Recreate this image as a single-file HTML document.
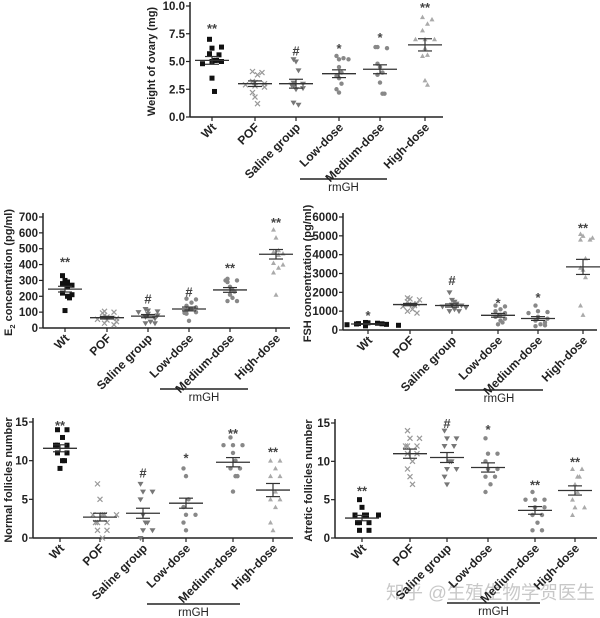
<!DOCTYPE html>
<html><head><meta charset="utf-8"><style>
html,body{margin:0;padding:0;background:#fff;width:600px;height:618px;overflow:hidden}
svg{display:block}
text{font-family:"Liberation Sans",Arial,sans-serif;font-weight:bold;fill:#222}
</style></head><body>
<svg id="s" width="600" height="618" xmlns="http://www.w3.org/2000/svg">
<text x="386" y="599" style="font-family:'Liberation Sans','Noto Sans CJK SC',sans-serif;font-weight:normal;font-size:18.5px;fill:#c8c8c8">知乎 @生殖生物学贺医生</text>
</svg>
<script>
const S=document.getElementById('s');const NS='http://www.w3.org/2000/svg';
function el(t,a,txt){const e=document.createElementNS(NS,t);for(const k in a)e.setAttribute(k,a[k]);if(txt!==undefined)e.textContent=txt;S.appendChild(e);return e;}
const names=['Wt','POF','Saline group','Low-dose','Medium-dose','High-dose'];
const cols=['#111','#999','#777','#888','#888','#aaa'];
function marker(k,x,y){const c=cols[k];
 if(k==0)el('rect',{x:x-2.5,y:y-2.5,width:5,height:5,fill:c});
 else if(k==1){el('path',{d:`M${x-2.5} ${y-2.5}L${x+2.5} ${y+2.5}M${x+2.5} ${y-2.5}L${x-2.5} ${y+2.5}`,stroke:c,'stroke-width':1.2});}
 else if(k==2)el('path',{d:`M${x-3} ${y-2}L${x+3} ${y-2}L${x} ${y+3}Z`,fill:c});
 else if(k==5)el('path',{d:`M${x-2.5} ${y+2}L${x+2.5} ${y+2}L${x} ${y-2.5}Z`,fill:c});
 else el('circle',{cx:x,cy:y,r:2.2,fill:c});}
function panel(p){
 const sy=v=>p.y0+(p.y1-p.y0)*v/p.max;
 el('line',{x1:p.ax,y1:p.y1-4,x2:p.ax,y2:p.y0,stroke:'#222','stroke-width':1.5});
 el('line',{x1:p.ax,y1:p.y0,x2:p.xe,y2:p.y0,stroke:'#222','stroke-width':1.5});
 p.ticks.forEach(t=>{const y=sy(t);el('line',{x1:p.ax-4,y1:y,x2:p.ax,y2:y,stroke:'#222','stroke-width':1.2});
  el('text',{x:p.ax-5,y:y+4,'text-anchor':'end','font-size':11.5},p.tf?p.tf(t):t);});
 const ym=(p.y0+p.y1)/2;
 const tt=el('text',{x:0,y:0,'text-anchor':'middle','font-size':11,transform:`translate(${p.tx},${ym}) rotate(-90)`});
 if(p.e2){tt.textContent='E';const ts=document.createElementNS(NS,'tspan');ts.setAttribute('font-size',7.5);ts.setAttribute('dy',3);ts.textContent='2';tt.appendChild(ts);const t2=document.createElementNS(NS,'tspan');t2.setAttribute('dy',-3);t2.textContent=' concentration (pg/ml)';tt.appendChild(t2);} else tt.textContent=p.title;
 p.cx.forEach((cx,k)=>{
  el('line',{x1:cx,y1:p.y0,x2:cx,y2:p.y0+4,stroke:'#222','stroke-width':1.2});
  el('text',{x:0,y:0,'text-anchor':'end','font-size':12,transform:`translate(${cx+5},${p.y0+11}) rotate(-45)`},names[k]);
  const d=p.d[k];const cnt={};
  d.v.forEach((v,i)=>{const key=Math.round(sy(v)/3);cnt[key]=(cnt[key]||0)+1;const n=cnt[key]-1;const off=(n%2?1:-1)*Math.ceil(n/2)*7+ (i%3-1)*2.5;marker(k,cx+off,sy(v));});
  const m=sy(d.m),se=(p.y0-p.y1)*d.s/p.max;
  el('line',{x1:cx-17,y1:m,x2:cx+17,y2:m,stroke:'#333','stroke-width':1.3});
  el('line',{x1:cx,y1:m-se,x2:cx,y2:m+se,stroke:'#333','stroke-width':1.2});
  el('line',{x1:cx-7,y1:m-se,x2:cx+7,y2:m-se,stroke:'#333','stroke-width':1.2});
  el('line',{x1:cx-7,y1:m+se,x2:cx+7,y2:m+se,stroke:'#333','stroke-width':1.2});
  if(d.star)el('text',{x:cx,y:sy(d.sy)+5,'text-anchor':'middle','font-size':13,style:'fill:#444'},d.star);
 });
 el('line',{x1:p.rg[0],y1:p.rg[2],x2:p.rg[1],y2:p.rg[2],stroke:'#222','stroke-width':1.5});
 el('text',{x:(p.rg[0]+p.rg[1])/2,y:p.rg[2]+12,'text-anchor':'middle','font-size':11.5,style:'font-weight:normal'},'rmGH');
}
panel({ax:190,xe:443,y0:117,y1:6,max:10,ticks:[0,2.5,5,7.5,10],tf:t=>t.toFixed(1),tx:155,title:'Weight of ovary (mg)',
 cx:[212,255,296,339,380,425],rg:[300,387,179],d:[
 {v:[7,6.2,6.3,5.7,5.6,5.1,5.1,5,5,4.8,3.5,2.3],m:5.1,s:.35,star:'**',sy:8},
 {v:[4.1,4,3.8,3.2,3.1,3,2.9,2.8,2.7,2.2,1.8,1.2],m:3,s:.25},
 {v:[5.2,5,4.2,3.1,3,2.9,2.8,2.6,1.1,1.3,2.5],m:3,s:.4,star:'#',sy:6},
 {v:[5.5,5.2,5.2,5.3,4.5,4,3.7,3.5,3,2.5,2.2],m:3.9,s:.35,star:'*',sy:6.2},
 {v:[6.3,6.2,6.3,4.8,4.5,4,3.8,3.1,2.1,2.1],m:4.3,s:.4,star:'*',sy:7.2},
 {v:[9,8.8,8.4,7.8,7,7,7,6.2,5.6,5.5,3.3,2.9],m:6.5,s:.55,star:'**',sy:9.9}]});
panel({ax:43,xe:290,y0:328,y1:217,max:700,ticks:[0,100,200,300,400,500,600,700],tx:12,e2:1,
 cx:[65,107,148,189,230,276],rg:[160,248,389],d:[
 {v:[330,300,290,280,270,260,220,210,200,190,110],m:245,s:18,star:'**',sy:420},
 {v:[105,100,95,80,70,60,55,50,40,30,20],m:65,s:8},
 {v:[120,110,105,100,90,80,70,60,40,30,30],m:75,s:10,star:'#',sy:185},
 {v:[185,180,160,140,130,120,110,100,95,90,45],m:120,s:12,star:'#',sy:230},
 {v:[310,300,300,290,260,240,230,210,190,170,170],m:240,s:15,star:'**',sy:380},
 {v:[620,570,490,480,470,460,410,400,380,350,210],m:465,s:30,star:'**',sy:670}]});
panel({ax:343,xe:597,y0:330,y1:217,max:6000,ticks:[0,1000,2000,3000,4000,5000,6000],tx:311,title:'FSH concentration (pg/ml)',
 cx:[368,410,452,498,538,583],rg:[455,543,390],d:[
 {v:[400,380,360,340,330,320,300,280,250,220],m:320,s:20,star:'*',sy:800},
 {v:[1700,1650,1600,1500,1400,1350,1300,1250,1100,1000,900],m:1350,s:60},
 {v:[2000,1600,1500,1400,1350,1300,1250,1200,1100,1000,1000],m:1300,s:80,star:'#',sy:2650},
 {v:[1300,1250,1100,1000,900,800,700,600,500,400,300],m:780,s:100,star:'*',sy:1450},
 {v:[1300,1000,950,900,700,600,500,400,300,200,250],m:610,s:100,star:'*',sy:1750},
 {v:[5100,5000,4900,4800,4800,3800,3300,3200,2800,1300,800],m:3350,s:400,star:'**',sy:5450}]});
panel({ax:33,xe:293,y0:538,y1:422,max:15,ticks:[0,5,10,15],tx:12,title:'Normal follicles number',
 cx:[60,100,143,186,233,273],rg:[147,240,604],d:[
 {v:[14,14,13,12,12,12,11,11,10,10,9],m:11.6,s:.45,star:'**',sy:14.6},
 {v:[7,5,3,3,3,3,2,2,2,1,1,0],m:2.7,s:.5},
 {v:[7,6,6,5,3,2,2,1,1,0],m:3.2,s:.65,star:'#',sy:8.5},
 {v:[9,8,5,4,3,3,2,1],m:4.5,s:.65,star:'*',sy:10.4},
 {v:[13,12,12,12,11,10,9,9,8,8,6],m:9.8,s:.6,star:'**',sy:13.6},
 {v:[10,10,9,8,8,6,5,5,4,2,1],m:6.2,s:.85,star:'**',sy:11.2}]});
panel({ax:335,xe:597,y0:538,y1:423,max:15,ticks:[0,5,10,15],tx:312,title:'Atretic follicles number',
 cx:[362,410,447,488,535,575],rg:[447,540,603],d:[
 {v:[5,4,3,3,3,3,2,2,2,1,1],m:2.6,s:.35,star:'**',sy:6.2},
 {v:[14,13,13,12,12,12,11,11,10,9,8,7],m:11,s:.6},
 {v:[14,13,13,12,12,10,10,9,9,8,7],m:10.5,s:.65,star:'#',sy:15},
 {v:[13,11,11,10,9,9,8,8,7,6],m:9.2,s:.6,star:'*',sy:14.2},
 {v:[6,5,5,5,4,4,3,3,2,1,1],m:3.6,s:.5,star:'**',sy:7},
 {v:[9,9,8,8,7,6,5,4,4,3],m:6.2,s:.6,star:'**',sy:10}]});
</script>
</body></html>
